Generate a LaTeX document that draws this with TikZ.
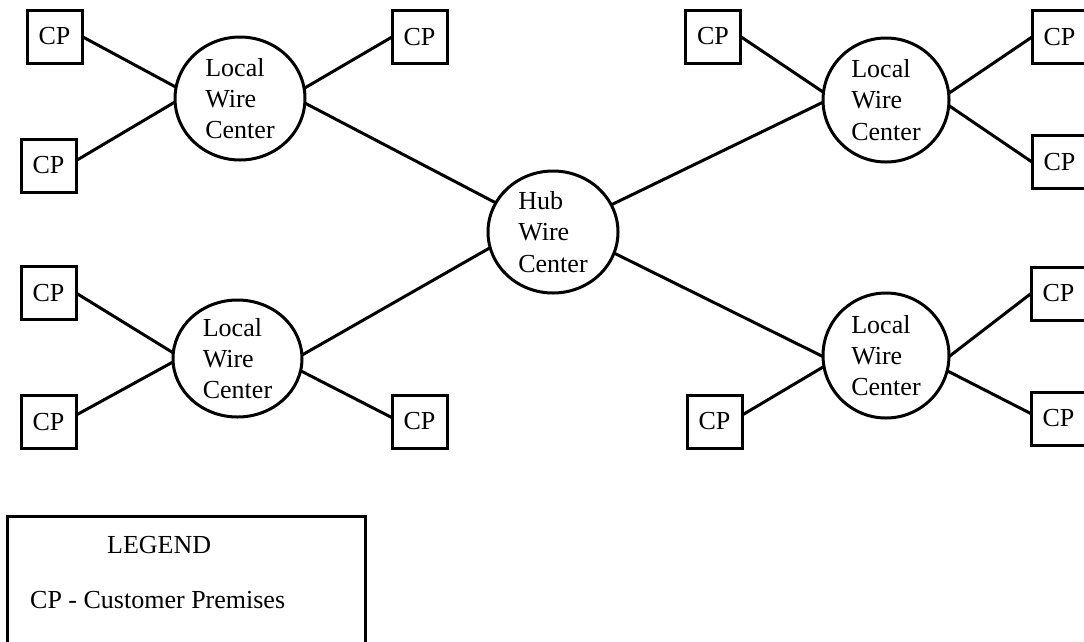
\documentclass[tikz,border=0pt]{standalone}
\usepackage{fontspec}
\setmainfont{Liberation Serif}
\usetikzlibrary{shapes.geometric}

\begin{document}
\begin{tikzpicture}[x=1pt,y=-1pt,
  txt/.style={font=\fontsize{26}{31.3}\selectfont, inner sep=0pt},
  cpbox/.style={draw, line width=3pt, rectangle, minimum width=55pt,
    minimum height=53pt, inner sep=0pt, outer sep=0pt, txt},
  wirectr/.style={draw, line width=3pt, ellipse, inner sep=0pt, outer sep=0pt},
  wctext/.style={txt, align=left},
  link/.style={line width=3pt}]

\useasboundingbox (0,0) rectangle (1084,641);

% wire centers
\node[wirectr, minimum width=130pt, minimum height=123pt] (lwTL) at (240,98.5) {};
\node[wirectr, minimum width=130pt, minimum height=122pt] (hub)  at (553,232) {};
\node[wirectr, minimum width=126pt, minimum height=124pt] (lwTR) at (886,100) {};
\node[wirectr, minimum width=129pt, minimum height=117pt] (lwBL) at (237.5,358.5) {};
\node[wirectr, minimum width=126pt, minimum height=125pt] (lwBR) at (886,355.5) {};

\node[wctext] (lwTLt) at (lwTL) {Local\\Wire\\Center};
\node[wctext] (hubt)  at (hub)  {Hub\\Wire\\Center};
\node[wctext] (lwTRt) at (lwTR) {Local\\Wire\\Center};
\node[wctext] (lwBLt) at (lwBL) {Local\\Wire\\Center};
\node[wctext] (lwBRt) at (lwBR) {Local\\Wire\\Center};

% customer premises
\node[cpbox] (cpA) at (54.5,36.5) {CP};
\node[cpbox] (cpB) at (48.5,165.5) {CP};
\node[cpbox] (cpC) at (419.5,37) {CP};
\node[cpbox] (cpD) at (713,36.5) {CP};
\node[cpbox] (cpE) at (1059.5,37) {CP};
\node[cpbox] (cpF) at (1059.5,162) {CP};
\node[cpbox] (cpG) at (48.5,293) {CP};
\node[cpbox] (cpH) at (48.5,422) {CP};
\node[cpbox] (cpI) at (419.5,421.5) {CP};
\node[cpbox] (cpJ) at (714.5,421.5) {CP};
\node[cpbox] (cpK) at (1058.5,293.5) {CP};
\node[cpbox] (cpL) at (1058.5,418.5) {CP};

% trunks from the hub
\draw[link] (lwTL.-4)    -- (hub.153.4);
\draw[link] (lwBL.3.1)   -- (hub.194.4);
\draw[link] (hub.25)     -- (lwTR.182.7);
\draw[link] (hub.-19.8)  -- (lwBR.181.4);

% local loops
\draw[link] (cpA.east)   -- (lwTL.170.4);
\draw[link] (cpB.10.9)   -- (lwTL.183);
\draw[link] (lwTL.9.2)   -- (cpC.west);
\draw[link] (cpD.east)   -- (lwTR.173.8);
\draw[link] (lwTR.6.3)   -- (cpE.west);
\draw[link] (lwTR.-5.4)  -- (cpF.west);
\draw[link] (cpG.east)   -- (lwBL.175.2);
\draw[link] (cpH.14)     -- (lwBL.183);
\draw[link] (lwBL.-11.8) -- (cpI.172.7);
\draw[link] (cpJ.13.3)   -- (lwBR.190.3);
\draw[link] (lwBR.-1.4)  -- (cpK.west);
\draw[link] (lwBR.-14.7) -- (cpL.170.7);

% legend
\node[draw, line width=3pt, anchor=north west, minimum width=358pt,
  minimum height=150pt, inner sep=0pt, outer sep=0pt] (legend) at (7,516) {};
\node[txt, anchor=base west] (legtitle) at (107,553) {LEGEND};
\node[txt, anchor=base west] (legcp) at (30,608) {CP - Customer Premises};

\end{tikzpicture}
\end{document}
